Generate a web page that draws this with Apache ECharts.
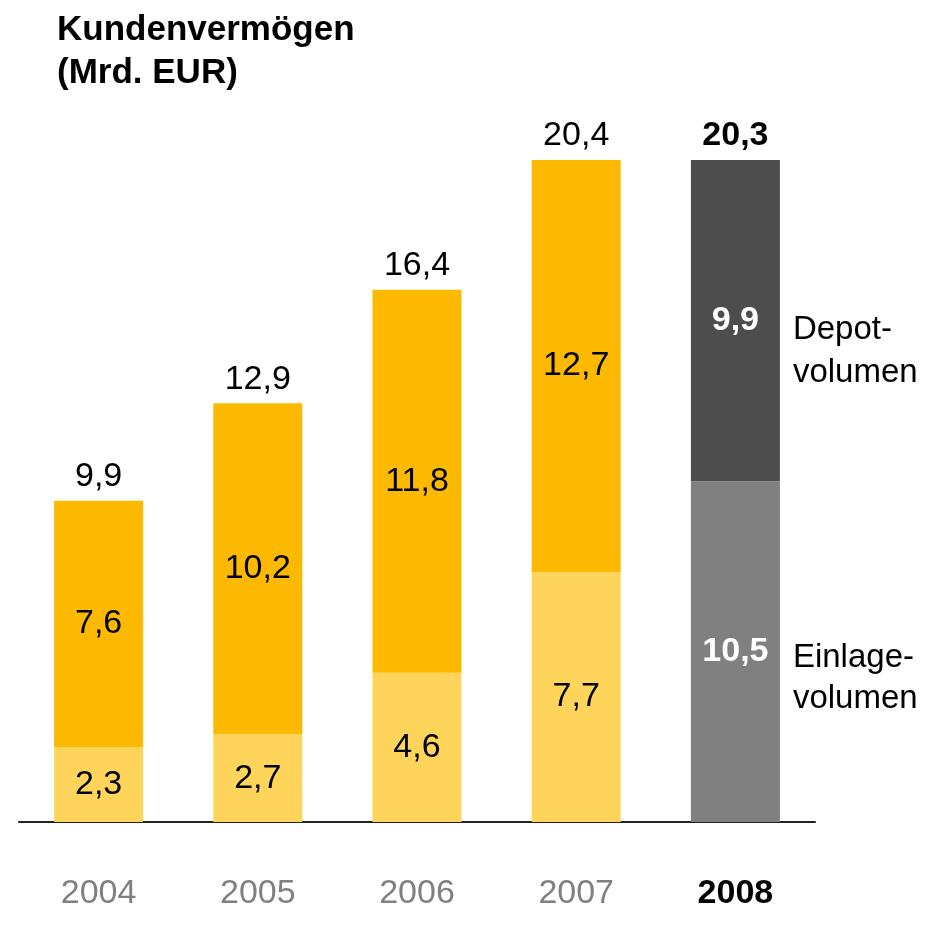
<!DOCTYPE html>
<html>
<head>
<meta charset="utf-8">
<script src="https://cdn.jsdelivr.net/npm/echarts@6/dist/echarts.min.js"></script>
<style>
  html, body { margin: 0; padding: 0; background: #fff; }
  #chart { width: 931px; height: 925px; }
</style>
</head>
<body>
<div id="chart"></div>
<script>
// Daten
const years = ["2004", "2005", "2006", "2007", "2008"];
const einlage = [2.3, 2.7, 4.6, 7.7, 10.5];
const depot = [7.6, 10.2, 11.8, 12.7, 9.9];
const totals = [9.9, 12.9, 16.4, 20.4, 20.3];
const sideLabels = ["Depot-\nvolumen", "Einlage-\nvolumen"];

const FONT = "Liberation Sans, Arial, sans-serif";
const fmt = (v) => String(v).replace(".", ",");
const last = years.length - 1;

const chart = echarts.init(document.getElementById("chart"));

const option = {
  animation: false,
  backgroundColor: "#fff",
  title: {
    text: "Kundenvermögen\n(Mrd. EUR)",
    left: 52,
    top: 4,
    textStyle: {
      fontFamily: FONT,
      fontSize: 35,
      fontWeight: "bold",
      color: "#000",
      lineHeight: 43,
    },
  },
  grid: { left: 19, right: 116, top: 108, bottom: 103 },
  xAxis: {
    type: "category",
    data: years,
    axisLine: { lineStyle: { color: "#222", width: 2 } },
    axisTick: { show: false },
    axisLabel: {
      interval: 0,
      margin: 55,
      fontFamily: FONT,
      fontSize: 34,
      color: "#808080",
      formatter: (v, i) => (i === last ? "{b|" + v + "}" : v),
      rich: {
        b: { fontFamily: FONT, fontSize: 34, fontWeight: "bold", color: "#000" },
      },
    },
  },
  yAxis: {
    type: "value",
    min: 0,
    max: 22,
    show: false,
    splitLine: { show: false },
  },
  series: [
    {
      name: "Einlagevolumen",
      type: "bar",
      stack: "total",
      barWidth: 89,
      data: einlage.map((v, i) => ({
        value: v,
        itemStyle: { color: i === last ? "#808080" : "#FED45A" },
        label: i === last ? { color: "#fff", fontWeight: "bold" } : {},
      })),
      label: {
        show: true,
        position: "inside",
        fontFamily: FONT,
        fontSize: 34,
        color: "#000",
        formatter: (p) => fmt(p.value),
      },
    },
    {
      name: "Depotvolumen",
      type: "bar",
      stack: "total",
      barWidth: 89,
      data: depot.map((v, i) => ({
        value: v,
        itemStyle: { color: i === last ? "#4D4D4D" : "#FDB900" },
        label: i === last ? { color: "#fff", fontWeight: "bold" } : {},
      })),
      label: {
        show: true,
        position: "inside",
        fontFamily: FONT,
        fontSize: 34,
        color: "#000",
        formatter: (p) => fmt(p.value),
      },
    },
    {
      // Summenbeschriftung über dem Stapel
      name: "Summe",
      type: "bar",
      stack: "total",
      barWidth: 89,
      data: totals.map((v, i) => ({
        value: 0,
        label: i === last ? { fontWeight: "bold" } : {},
      })),
      itemStyle: { color: "transparent" },
      label: {
        show: true,
        position: "top",
        distance: 7,
        fontFamily: FONT,
        fontSize: 34,
        color: "#000",
        formatter: (p) => fmt(totals[p.dataIndex]),
      },
    },
  ],
};

chart.setOption(option);

// Seitenbeschriftung neben dem letzten Balken
const depotMid = chart.convertToPixel({ seriesIndex: 0 }, [last, einlage[last] + depot[last] / 2]);
const einlageMid = chart.convertToPixel({ seriesIndex: 0 }, [last, einlage[last] / 2]);
const barRight = depotMid[0] + 44.5 + 13;

chart.setOption({
  graphic: [
    {
      type: "text",
      left: barRight,
      top: depotMid[1] - 12,
      style: { text: sideLabels[0], font: "33px " + FONT, fill: "#000", lineHeight: 43 },
    },
    {
      type: "text",
      left: barRight,
      top: einlageMid[1] - 14,
      style: { text: sideLabels[1], font: "33px " + FONT, fill: "#000", lineHeight: 41 },
    },
  ],
});
</script>
</body>
</html>
